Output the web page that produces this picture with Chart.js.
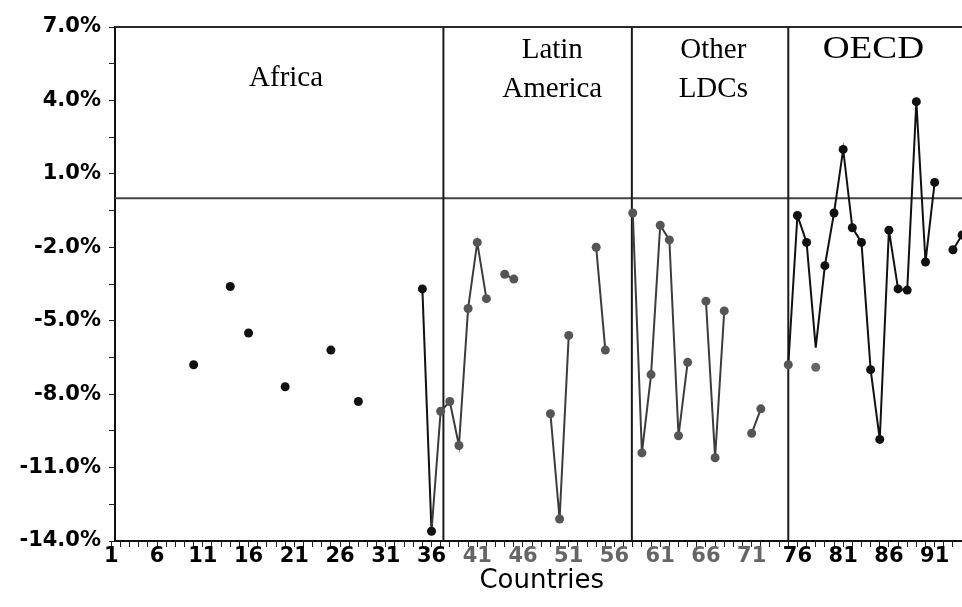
<!DOCTYPE html>
<html>
<head>
<meta charset="utf-8">
<script src="https://cdn.jsdelivr.net/npm/chart.js@4.4.1/dist/chart.umd.min.js"></script>
<style>
  html, body { margin: 0; background: #fff; overflow: hidden; }
</style>
</head>
<body>
<!-- the printed figure is cut off at the right edge, so the canvas runs a little past the window -->
<canvas id="myChart" width="973" height="607"></canvas>
<script>
// growth rate (%) by country number, null = no data (gap in the line)
// Africa: countries 1-36
var africaGrowth = [
  null, null, null, null, null, null, null, null, null, -6.8,
  null, null, null, -3.6, null, -5.5, null, null, null, -7.7,
  null, null, null, null, -6.2, null, null, -8.3, null, null,
  null, null, null, null, -3.7, -13.6
];
// Latin America: countries 37-57
var latinGrowth = [
  -8.7, -8.3, -10.1, -4.5, -1.8, -4.1, null, -3.1, -3.3, null,
  null, null, -8.8, -13.1, -5.6, null, null, -2.0, -6.2, null,
  null
];
// Other LDCs: countries 58-75
var ldcGrowth = [
  -0.6, -10.4, -7.2, -1.1, -1.7, -9.7, -6.7, null, -4.2, -10.6,
  -4.6, null, null, -9.6, -8.6, null, null, -6.8
];
// OECD: countries 76-94
var oecdGrowth = [
  -0.7, -1.8, -6.1, -2.75, -0.6, 2.0, -1.2, -1.8, -7.0, -9.85,
  -1.3, -3.7, -3.75, 3.95, -2.6, 0.65, null, -2.1, -1.5
];
// one marker printed off its line in the original
var strayX = [78];
var strayY = [-6.9];

var regionNames = [['Africa'], ['Latin', 'America'], ['Other', 'LDCs'], ['OECD']];
var dividers = [37.3, 57.9, 75];
var xTickLabels = [1, 6, 11, 16, 21, 26, 31, 36, 41, 46, 51, 56, 61, 66, 71, 76, 81, 86, 91];
var yTickLabels = [7, 4, 1, -2, -5, -8, -11, -14];

var BLACK = '#111';
var GREY = '#555';

var points = [], colors = [];
var n = 1;
[africaGrowth, latinGrowth, ldcGrowth, oecdGrowth].forEach(function (vals, r) {
    vals.forEach(function (v) {
        points.push({ x: n, y: v });
        colors.push(r === 1 || r === 2 ? GREY : BLACK);
        n++;
    });
});
var strayPoints = strayX.map(function (x, i) { return { x: x, y: strayY[i] }; });

var regionPlugin = {
    id: 'regionPlugin',
    beforeDatasetsDraw: function (chart) {
        var c = chart.ctx, a = chart.chartArea;
        var xs = chart.scales.x, ys = chart.scales.y;
        c.save();
        c.lineWidth = 2;
        // top frame and zero line
        c.strokeStyle = '#2a2a2a';
        c.beginPath();
        c.moveTo(a.left, ys.getPixelForValue(7));
        c.lineTo(a.right, ys.getPixelForValue(7));
        c.stroke();
        c.strokeStyle = '#444';
        c.beginPath();
        c.moveTo(a.left, ys.getPixelForValue(0));
        c.lineTo(a.right, ys.getPixelForValue(0));
        c.stroke();
        c.strokeStyle = '#1a1a1a';
        dividers.forEach(function (d) {
            var px = xs.getPixelForValue(d);
            c.beginPath();
            c.moveTo(px, a.top);
            c.lineTo(px, a.bottom);
            c.stroke();
        });
        c.restore();
    },
    afterDraw: function (chart) {
        var c = chart.ctx;
        var xs = chart.scales.x, ys = chart.scales.y;
        var labelX = [20.1, 49.2, 66.8, 84.3];
        c.save();
        c.fillStyle = '#000';
        c.textAlign = 'center';
        c.textBaseline = 'middle';
        regionNames.forEach(function (lines, i) {
            var top = i === 0 ? 4.9 : 6.05;
            var stretch = i === 3 ? 1.2 : 1;
            c.font = (i === 3 ? 31 : 29) + 'px "Liberation Serif"';
            lines.forEach(function (t, j) {
                c.save();
                c.translate(xs.getPixelForValue(labelX[i]), ys.getPixelForValue(top - j * 1.6));
                c.scale(stretch, 1);
                c.fillText(t, 0, 0);
                c.restore();
            });
        });
        c.restore();
    }
};

var ctx = document.getElementById('myChart').getContext('2d');
var myChart = new Chart(ctx, {
    type: 'line',
    data: {
        datasets: [
            {
                data: points,
                borderWidth: 2,
                pointRadius: function (c) {
                    return c.raw && strayX.indexOf(c.raw.x) >= 0 ? 0 : 4.5;
                },
                pointBorderWidth: 0,
                pointBackgroundColor: function (c) { return colors[c.dataIndex]; },
                segment: {
                    borderColor: function (c) { return colors[c.p1DataIndex] === GREY ? '#3c3c3c' : BLACK; }
                },
                borderColor: BLACK,
                spanGaps: false
            },
            {
                data: strayPoints,
                showLine: false,
                pointRadius: 4.5,
                pointBorderWidth: 0,
                pointBackgroundColor: '#666'
            }
        ]
    },
    options: {
        responsive: false,
        animation: false,
        layout: { padding: { top: 27, right: 0, left: 0, bottom: 0 } },
        plugins: { legend: { display: false }, tooltip: { enabled: false } },
        scales: {
            x: {
                type: 'linear',
                min: 1.4,
                max: 94.7,
                afterBuildTicks: function (s) {
                    var t = [];
                    for (var i = 1; i <= 94; i++) t.push({ value: i });
                    s.ticks = t;
                },
                afterFit: function (s) { s.height = 66; },
                ticks: {
                    autoSkip: false,
                    maxRotation: 0,
                    padding: -3,
                    font: { family: 'DejaVu Sans', weight: 'bold', size: 21 },
                    color: function (c) {
                        var v = c.tick.value;
                        return v >= 37 && v < 75 ? '#666' : '#000';
                    },
                    callback: function (v) { return xTickLabels.indexOf(v) >= 0 ? String(v) : ''; }
                },
                grid: { drawOnChartArea: false, drawTicks: true, tickLength: 6, color: '#222', lineWidth: 1 },
                border: { display: true, color: '#111', width: 2 },
                title: {
                    display: true,
                    text: 'Countries',
                    color: '#000',
                    font: { family: 'DejaVu Sans', size: 26 },
                    padding: { top: 0, bottom: 10 }
                }
            },
            y: {
                min: -14,
                max: 7,
                afterBuildTicks: function (s) {
                    var t = [];
                    for (var v = -14; v <= 7.001; v += 1.5) t.push({ value: Math.round(v * 10) / 10 });
                    s.ticks = t;
                },
                afterFit: function (s) { s.width = 115; },
                ticks: {
                    padding: 8,
                    color: '#000',
                    font: { family: 'DejaVu Sans', weight: 'bold', size: 21 },
                    callback: function (v) { return yTickLabels.indexOf(v) >= 0 ? v.toFixed(1) + '%' : ''; }
                },
                grid: { drawOnChartArea: false, drawTicks: true, tickLength: 6, color: '#222', lineWidth: 1 },
                border: { display: true, color: '#111', width: 2 }
            }
        }
    },
    plugins: [regionPlugin]
});
</script>
</body>
</html>
